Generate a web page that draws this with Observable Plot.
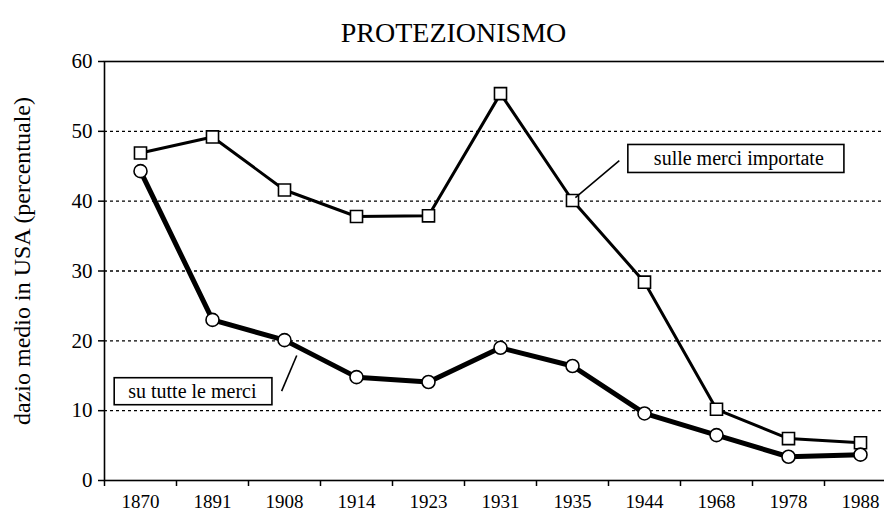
<!DOCTYPE html>
<html>
<head>
<meta charset="utf-8">
<script src="https://cdn.jsdelivr.net/npm/d3@7"></script>
<script src="https://cdn.jsdelivr.net/npm/@observablehq/plot@0.6"></script>
<style>
  html, body { margin: 0; padding: 0; background: white; }
</style>
</head>
<body>
<div id="chart"></div>
<script>
// ---- data ----
const years = ["1870", "1891", "1908", "1914", "1923", "1931", "1935", "1944", "1968", "1978", "1988"];
const importedGoods = [46.9, 49.2, 41.6, 37.8, 37.9, 55.4, 40.1, 28.4, 10.2, 6.0, 5.4];
const allGoods = [44.3, 23.0, 20.1, 14.8, 14.1, 19.0, 16.4, 9.6, 6.5, 3.4, 3.7];
const yTicks = [0, 10, 20, 30, 40, 50, 60];
const gridValues = [10, 20, 30, 40, 50];
const title = "PROTEZIONISMO";
const yLabel = "dazio medio in USA (percentuale)";
const seriesLabels = ["sulle merci importate", "su tutte le merci"];

// annotation anchors (in data coordinates: x = year index, y = percent)
const annoImported = [{label: seriesLabels[0], x: 8.31, y: 46.1}];
const annoAll = [{label: seriesLabels[1], x: 0.72, y: 12.7}];
const leaders = [
  {x1: 6.65, y1: 45.8, x2: 6.04, y2: 40.5},
  {x1: 1.96, y1: 12.8, x2: 2.17, y2: 17.9}
];

const imp = years.map((y, i) => ({i, v: importedGoods[i]}));
const all = years.map((y, i) => ({i, v: allGoods[i]}));

const serif = "'Liberation Serif', 'DejaVu Serif', serif";

const chart = Plot.plot({
  width: 884,
  height: 512,
  marginTop: 61,
  marginBottom: 32,
  marginLeft: 104,
  marginRight: -12,
  style: {fontFamily: serif, fontSize: "19px", color: "black", background: "white", overflow: "hidden"},
  x: {type: "linear", domain: [-0.5, years.length - 0.5], range: [104, 896]},
  y: {domain: [0, 60], range: [480, 61]},
  marks: [
    Plot.gridY(gridValues, {stroke: "black", strokeOpacity: 1, strokeWidth: 1.3, strokeDasharray: "3,3"}),
    Plot.frame({stroke: "black", strokeWidth: 1.6}),
    Plot.axisY({ticks: yTicks, tickSize: 6, tickPadding: 6, tickFormat: d => String(d), label: null, strokeWidth: 1.5, fontSize: 21}),
    Plot.axisX({ticks: d3.range(-0.5, years.length, 1), tickSize: 6, tickFormat: () => "", label: null, strokeWidth: 1.5}),
    Plot.axisX({ticks: d3.range(years.length), tickSize: 0, tickPadding: 14, tickFormat: d => years[d], label: null, fontSize: 19}),
    Plot.text([yLabel], {frameAnchor: "left", textAnchor: "middle", rotate: -90, dx: -82, dy: -10, fontSize: 24}),
    Plot.text([title], {frameAnchor: "top", dy: -39, dx: -47, fontSize: 28}),
    Plot.line(imp, {x: "i", y: "v", stroke: "black", strokeWidth: 3}),
    Plot.line(all, {x: "i", y: "v", stroke: "black", strokeWidth: 5}),
    Plot.dot(imp, {x: "i", y: "v", symbol: "square", r: 6.8, fill: "white", stroke: "black", strokeWidth: 1.6}),
    Plot.dot(all, {x: "i", y: "v", symbol: "circle", r: 6.5, fill: "white", stroke: "black", strokeWidth: 1.6}),
    Plot.link(leaders, {x1: "x1", y1: "y1", x2: "x2", y2: "y2", stroke: "black", strokeWidth: 1.6}),
    Plot.text(annoImported, {x: "x", y: "y", text: "label", fontSize: 20, className: "anno-imp"}),
    Plot.text(annoAll, {x: "x", y: "y", text: "label", fontSize: 20, className: "anno-all"})
  ]
});

document.getElementById("chart").append(chart);

// draw a framed box around each annotation label, sized from the rendered text
const svgNS = "http://www.w3.org/2000/svg";
function boxAround(selector, padLeft, padRight) {
  chart.querySelectorAll(selector + " text").forEach(t => {
    const b = t.getBBox();
    const padY = 2.5;
    const r = document.createElementNS(svgNS, "rect");
    r.setAttribute("x", b.x - padLeft);
    r.setAttribute("y", b.y - padY);
    r.setAttribute("width", b.width + padLeft + padRight);
    r.setAttribute("height", b.height + 2 * padY);
    r.setAttribute("fill", "white");
    r.setAttribute("stroke", "black");
    r.setAttribute("stroke-width", 1.6);
    const tr = t.getAttribute("transform");
    if (tr) r.setAttribute("transform", tr);
    t.parentNode.insertBefore(r, t);
  });
}
boxAround("g.anno-imp", 26, 20);
boxAround("g.anno-all", 14, 15);
</script>
</body>
</html>
